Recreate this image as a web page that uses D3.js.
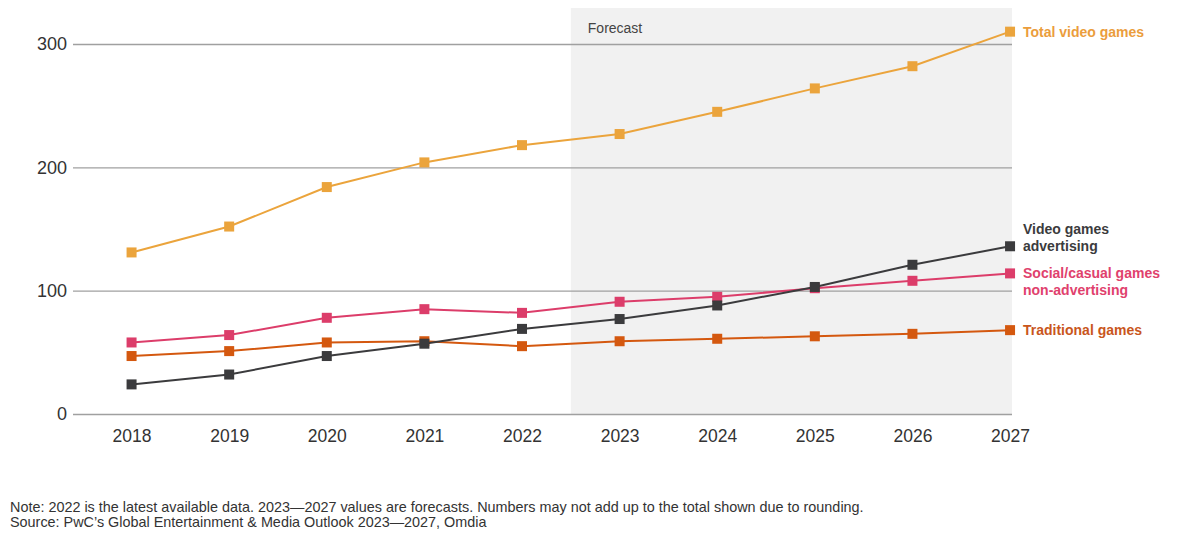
<!DOCTYPE html>
<html>
<head>
<meta charset="utf-8">
<script src="https://cdn.jsdelivr.net/npm/d3@7"></script>
<style>
  body { margin: 0; background: #fff; }
  text { font-family: "Liberation Sans", Arial, sans-serif; }
</style>
</head>
<body>
<div id="chart"></div>
<script>
// === DATA ===
const years = [2018, 2019, 2020, 2021, 2022, 2023, 2024, 2025, 2026, 2027];
const totalVideoGames = [131, 152, 184, 204, 218, 227, 245, 264, 282, 310];
const videoGamesAdvertising = [24, 32, 47, 57, 69, 77, 88, 103, 121, 136];
const socialCasualNonAdvertising = [58, 64, 78, 85, 82, 91, 95, 102, 108, 114];
const traditionalGames = [47, 51, 58, 59, 55, 59, 61, 63, 65, 68];
const yTicks = [0, 100, 200, 300];
const forecastStart = 2023;

const series = [
  { name: "Total video games", lines: ["Total video games"], values: totalVideoGames, color: "#eba43c", labelColor: "#eb9d3c" },
  { name: "Social/casual games", lines: ["Social/casual games", "non-advertising"], values: socialCasualNonAdvertising, color: "#dc3d6a", labelColor: "#e0416d" },
  { name: "Traditional games", lines: ["Traditional games"], values: traditionalGames, color: "#d4580f", labelColor: "#c9561c" },
  { name: "Video games advertising", lines: ["Video games", "advertising"], values: videoGamesAdvertising, color: "#3b3b3d", labelColor: "#3b3b3d" }
];

const W = 1179, H = 535;
const margin = { top: 44, right: 167, bottom: 121, left: 73 };
const width = W - margin.left - margin.right,
      height = H - margin.top - margin.bottom;

const svg = d3.select("#chart").append("svg")
  .attr("width", W).attr("height", H);

const g = svg.append("g")
  .attr("transform", `translate(${margin.left},${margin.top})`);

// === SCALES ===
const x = d3.scaleLinear()
  .domain([2017.4, 2027.02])
  .range([0, width]);

const y = d3.scaleLinear()
  .domain([0, 300])
  .range([height, 0]);

// forecast shading (between last actual year and first forecast year)
const shadeX0 = (x(forecastStart - 1) + x(forecastStart)) / 2;
g.append("rect")
  .attr("x", shadeX0)
  .attr("y", -36)
  .attr("width", width - shadeX0)
  .attr("height", height + 36)
  .attr("fill", "#f1f1f1");

g.append("text")
  .attr("x", shadeX0 + 17)
  .attr("y", -11)
  .attr("fill", "#444")
  .style("font-size", "14px")
  .text("Forecast");

// gridlines + y labels
const yAxis = g.append("g")
  .call(d3.axisLeft(y).tickValues(yTicks).tickSize(-width).tickPadding(6));
yAxis.select(".domain").remove();
yAxis.selectAll(".tick line")
  .attr("stroke", "#a0a0a0")
  .attr("stroke-width", 1.4);
yAxis.selectAll(".tick text")
  .attr("fill", "#333")
  .style("font-size", "18px")
  .style("font-family", "Liberation Sans, Arial, sans-serif");

// x axis labels
const xAxis = g.append("g")
  .attr("transform", `translate(0,${height})`)
  .call(d3.axisBottom(x).tickValues(years).tickFormat(d3.format("d")).tickSize(0).tickPadding(16));
xAxis.select(".domain").remove();
xAxis.selectAll(".tick text")
  .attr("fill", "#333")
  .style("font-size", "17.5px")
  .style("font-family", "Liberation Sans, Arial, sans-serif");

// === LINES ===
const line = d3.line()
  .x((d, i) => x(years[i]))
  .y(d => y(d));

series.forEach(s => {
  g.append("path")
    .datum(s.values)
    .attr("fill", "none")
    .attr("stroke", s.color)
    .attr("stroke-width", 2)
    .attr("d", line);

  g.append("g")
    .selectAll("rect")
    .data(s.values)
    .join("rect")
      .attr("x", (d, i) => x(years[i]) - 5)
      .attr("y", d => y(d) - 5)
      .attr("width", 10)
      .attr("height", 10)
      .attr("fill", s.color);
});

// === END LABELS ===
const labelOffsets = {
  "Total video games": [0],
  "Video games advertising": [-17, 0],
  "Social/casual games": [0, 17],
  "Traditional games": [0]
};
series.forEach(s => {
  const last = s.values[s.values.length - 1];
  const t = g.append("text")
    .attr("fill", s.labelColor)
    .style("font-size", "14px")
    .style("font-weight", "bold");
  s.lines.forEach((ln, i) => {
    t.append("tspan")
      .attr("x", width + 11)
      .attr("y", y(last) + 5 + labelOffsets[s.name][i])
      .text(ln);
  });
});

// === NOTES ===
const notes = [
  "Note: 2022 is the latest available data. 2023\u20142027 values are forecasts. Numbers may not add up to the total shown due to rounding.",
  "Source: PwC\u2019s Global Entertainment & Media Outlook 2023\u20142027, Omdia"
];
svg.append("g").selectAll("text")
  .data(notes)
  .join("text")
    .attr("x", 10)
    .attr("y", (d, i) => 512 + i * 15)
    .attr("fill", "#333")
    .style("font-size", "14.4px")
    .text(d => d);
</script>
</body>
</html>
